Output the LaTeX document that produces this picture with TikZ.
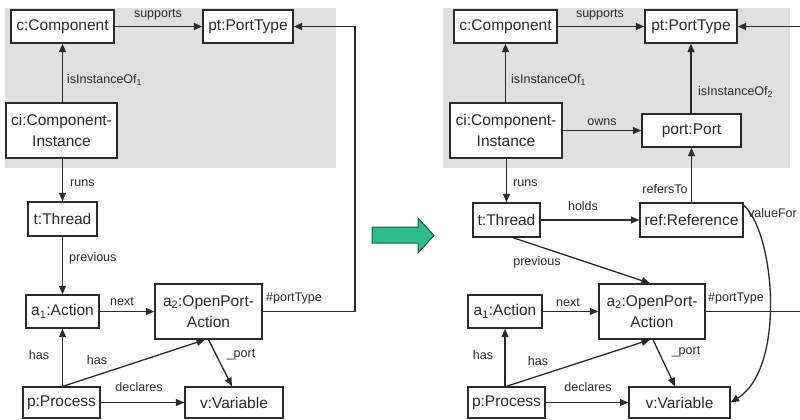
\documentclass[tikz,border=0pt]{standalone}
\usepackage{fontspec}
\setmainfont{Liberation Sans}
\usetikzlibrary{arrows.meta}

\definecolor{ink}{HTML}{2A2A2A}
\definecolor{panel}{HTML}{DFDFDF}
\definecolor{arrowfill}{HTML}{2DBE8C}
\definecolor{arrowline}{HTML}{1E5A3C}

\tikzset{
  obj/.style={draw=ink, line width=1.4pt, fill=white, inner sep=0pt,
    font=\fontsize{15.5}{21}\selectfont, text=ink, align=center,
    minimum height=33pt},
  tall/.style={minimum height=55pt},
  rel/.style={draw=ink, line width=1.3pt, -{Triangle[length=8.5pt,width=7pt]}},
  wire/.style={draw=ink, line width=1.3pt},
  lbl/.style={font=\fontsize{12.5}{14}\selectfont, text=ink, inner sep=0pt},
}

\begin{document}
\begin{tikzpicture}[x=1pt, y=-1pt]
\useasboundingbox (0,0) rectangle (800,420);

% ---------- shaded component regions ----------
\fill[panel] (5,8) rectangle (336,168);
\fill[panel] (443,8) rectangle (790,168);

% ---------- before: objects ----------
\node[obj, minimum width=103pt] (c1)  at (62.5,26.5) {c:Component};
\node[obj, minimum width=90pt]  (pt1) at (248,26.5) {pt:PortType};
\node[obj, tall, minimum width=111pt] (ci1) at (61.5,130.5) {ci:Component-\\Instance};
\node[obj, minimum width=69pt, minimum height=34pt] (t1) at (62.5,219) {t:Thread};
\node[obj, minimum width=73pt]  (a11) at (62.5,311.5) {a\textsubscript{1}:Action};
\node[obj, tall, minimum width=107pt] (a21) at (208.5,311.5) {a\textsubscript{2}:OpenPort-\\Action};
\node[obj, minimum width=77pt, minimum height=31pt] (p1) at (61.5,402.5) {p:Process};
\node[obj, minimum width=98pt, minimum height=31pt] (v1) at (234,402.5) {v:Variable};
\coordinate (lc1) at (355,311.5);

% ---------- before: relations ----------
\draw[rel] (c1) -- (pt1);
\draw[rel] (ci1.north -| c1) -- (c1.south);
\draw[rel] (ci1.south -| t1) -- (t1.north);
\draw[rel] (t1) -- (a11);
\draw[rel] (a11) -- (a21.west |- a11);
\draw[rel] (a21.east) -- (lc1) |- (pt1.east);
\draw[rel] (p1.north -| a11) -- (a11.south);
\draw[rel] ([xshift=1.5pt]p1.north) -- ([xshift=-3.5pt]a21.south);
\draw[rel] (a21.south) -- ([xshift=-2pt]v1.north);
\draw[rel] (p1) -- (v1);

% ---------- before: labels ----------
\node[lbl] (s1)  at (158,15) {supports};
\node[lbl, anchor=west] (io1) at (67,80) {isInstanceOf\textsubscript{1}};
\node[lbl, anchor=west] (ru1) at (70,183) {runs};
\node[lbl, anchor=west] (pr1) at (69,258) {previous};
\node[lbl] (nx1) at (122,302) {next};
\node[lbl, anchor=west] (pty1) at (266,298) {\#portType};
\node[lbl] (h11) at (39,355) {has};
\node[lbl] (h21) at (97,360) {has};
\node[lbl] (po1) at (241,355) {\_port};
\node[lbl] (de1) at (139,387) {declares};

% ---------- transformation arrow ----------
\draw[fill=arrowfill, draw=arrowline, line width=1pt, line join=miter]
  (372,227) -- (418,227) -- (418,218) -- (434,235.5) -- (418,253)
  -- (418,243) -- (372,243) -- cycle;

% ---------- after: objects ----------
\node[obj, minimum width=103pt] (c2)  at (505.5,26.5) {c:Component};
\node[obj, minimum width=92pt]  (pt2) at (691,26.5) {pt:PortType};
\node[obj, tall, minimum width=112pt] (ci2) at (506,130.5) {ci:Component-\\Instance};
\node[obj, minimum width=99pt] (port2) at (691.5,130.5) {port:Port};
\node[obj, minimum width=67pt, minimum height=34pt] (t2) at (506.5,220) {t:Thread};
\node[obj, minimum width=103pt, minimum height=34pt] (ref2) at (691.5,220) {ref:Reference};
\node[obj, minimum width=74pt]  (a12) at (505,311.5) {a\textsubscript{1}:Action};
\node[obj, tall, minimum width=106pt] (a22) at (652,311.5) {a\textsubscript{2}:OpenPort-\\Action};
\node[obj, minimum width=77pt, minimum height=31pt] (p2) at (506.5,402.5) {p:Process};
\node[obj, minimum width=101pt, minimum height=31pt] (v2) at (679.5,402.5) {v:Variable};
\coordinate (rin)  at (800,26.5);
\coordinate (rout) at (800,311.5);

% ---------- after: relations ----------
\draw[rel] (c2) -- (pt2);
\draw[rel] (rin) -- (pt2.east);
\draw[rel] (ci2.north -| c2) -- (c2.south);
\draw[rel] (ci2.east |- port2) -- (port2.west);
\draw[rel] (port2.north -| pt2) -- (pt2.south);
\draw[rel] (ref2.north -| port2) -- (port2.south);
\draw[rel] (ci2.south -| t2) -- (t2.north);
\draw[rel] (t2) -- (ref2);
\draw[rel] ([xshift=6.5pt]t2.south) -- ([xshift=-2pt]a22.north);
\draw[rel] (a12) -- (a22.west |- a12);
\draw[wire] (a22.east) -- (rout);
\draw[rel] (p2.north -| a12) -- (a12.south);
\draw[rel] (p2.north) -- ([xshift=-2pt]a22.south);
\draw[rel] ([xshift=1pt]a22.south) -- ([xshift=-4.5pt]v2.north);
\draw[rel] (p2) -- (v2);
\draw[rel] ([yshift=-3pt]ref2.north east) .. controls (775,233) and (786,368) .. (v2.east);

% ---------- after: labels ----------
\node[lbl] (s2)  at (600,15) {supports};
\node[lbl, anchor=west] (io12) at (511,80) {isInstanceOf\textsubscript{1}};
\node[lbl, anchor=west] (io22) at (698,92) {isInstanceOf\textsubscript{2}};
\node[lbl] (ow2) at (602,122) {owns};
\node[lbl, anchor=west] (ru2) at (513,183) {runs};
\node[lbl] (rt2) at (665,189) {refersTo};
\node[lbl] (ho2) at (583,206) {holds};
\node[lbl, anchor=west] (vf2) at (748,213) {valueFor};
\node[lbl] (pr2) at (537,262) {previous};
\node[lbl] (nx2) at (568,303) {next};
\node[lbl, anchor=west] (pty2) at (708,298) {\#portType};
\node[lbl] (h12) at (483,355) {has};
\node[lbl] (h22) at (538,361) {has};
\node[lbl] (po2) at (686,352) {\_port};
\node[lbl] (de2) at (588,387) {declares};
\end{tikzpicture}
\end{document}
